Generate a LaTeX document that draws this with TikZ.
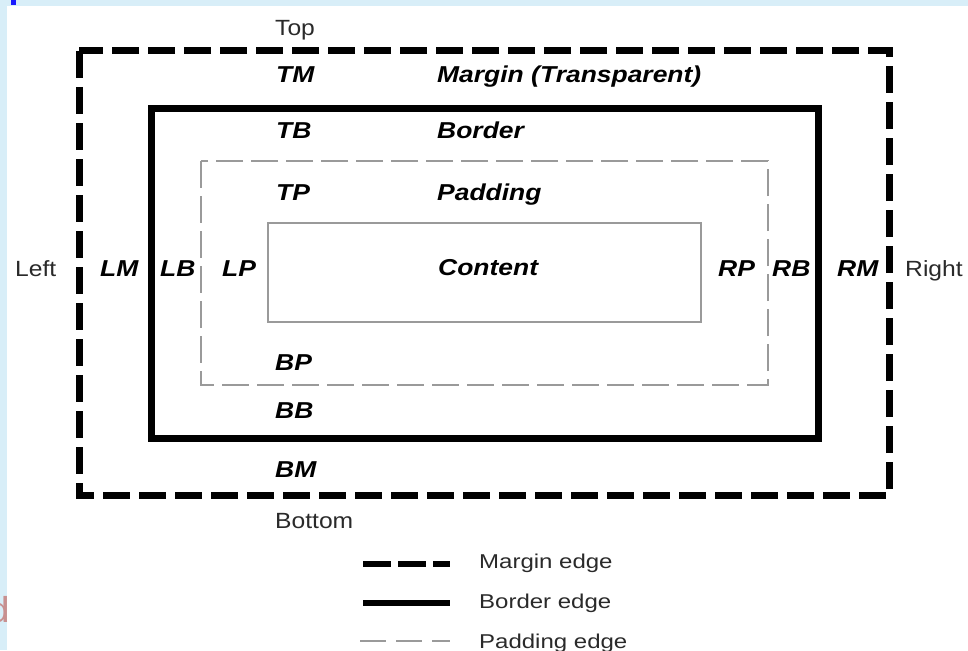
\documentclass[tikz,border=0pt]{standalone}
\usepackage{fontspec}
\newfontfamily\labfont{Liberation Sans}[FakeStretch=1.15]
\newfontfamily\sidefont{Liberation Sans}[FakeStretch=1.12]
\newfontfamily\legfont{Liberation Sans}[FakeStretch=1.2]
\definecolor{stripblue}{HTML}{D8EEF8}
\definecolor{markblue}{HTML}{1A1AFF}
\definecolor{txtgray}{HTML}{2A2A2A}
\definecolor{padgray}{HTML}{9A9A9A}
\definecolor{dcol}{HTML}{C89090}
\begin{document}
\begin{tikzpicture}[x=1pt,y=-1pt,
  lab/.style={font=\labfont\fontsize{23}{23}\selectfont\bfseries\itshape, anchor=base west, inner sep=0pt},
  side/.style={font=\sidefont\fontsize{22}{22}\selectfont, text=txtgray, anchor=base west, inner sep=0pt},
  leg/.style={font=\legfont\fontsize{20}{20}\selectfont, text=txtgray, anchor=base west, inner sep=0pt},
  marginedge/.style={line width=7pt, dash pattern=on 27pt off 9pt},
  borderedge/.style={line width=7pt},
  paddingedge/.style={line width=1.3pt, draw=padgray, dash pattern=on 27pt off 8pt},
  contentedge/.style={line width=1.2pt, draw=padgray}]
\useasboundingbox (0,0) rectangle (968,650);
\fill[white] (0,0) rectangle (968,650);
\fill[stripblue] (0,0) rectangle (7,650);
\fill[stripblue] (0,0) rectangle (968,6);
\fill[markblue] (11,0) rectangle (16,5);
\node[font=\sidefont\fontsize{36}{36}\selectfont, text=dcol, anchor=base east, inner sep=0pt] (dfrag) at (10,622) {d};

% boxes
\coordinate (mTL) at (79,51);   \coordinate (mBR) at (889,495);
\coordinate (bTL) at (151,109); \coordinate (bBR) at (818,438);
\coordinate (pTL) at (201,161); \coordinate (pBR) at (768,385);
\coordinate (cTL) at (268,223); \coordinate (cBR) at (701,322);
\draw[marginedge] (mTL) rectangle (mBR);
\draw[borderedge] (bTL) rectangle (bBR);
\draw[paddingedge] (pTL) rectangle (pBR);
\draw[contentedge] (cTL) rectangle (cBR);

% top / bottom labels
\node[side] (top) at (275,36) {Top};
\node[side] (bottom) at (275,528) {Bottom};
\node[side] (left) at (15,276) {Left};
\node[side] (right) at (905,276) {Right};

\node[lab] (tm) at (276,83) {TM};
\node[lab] (mt) at (437,83) {Margin (Transparent)};
\node[lab] (tb) at (276,138) {TB};
\node[lab] (bt) at (437,138) {Border};
\node[lab] (tp) at (276,200) {TP};
\node[lab] (pt) at (437,200) {Padding};
\node[lab] (ct) at (438,275) {Content};
\node[lab] (bp) at (275,370) {BP};
\node[lab] (bb) at (275,418) {BB};
\node[lab] (bm) at (275,477) {BM};

\node[lab] (lm) at (100,276) {LM};
\node[lab] (lb) at (160,276) {LB};
\node[lab] (lp) at (222,276) {LP};
\node[lab] (rp) at (718,276) {RP};
\node[lab] (rb) at (772,276) {RB};
\node[lab] (rm) at (837,276) {RM};

% legend
\coordinate (lm1) at (363,564); \coordinate (lm2) at (450,564);
\coordinate (lb1) at (363,603); \coordinate (lb2) at (450,603);
\coordinate (lp1) at (360,641); \coordinate (lp2) at (450,641);
\draw[line width=6pt, dash pattern=on 28pt off 7pt] (lm1) -- (lm2);
\draw[line width=6pt] (lb1) -- (lb2);
\draw[paddingedge, dash pattern=on 26pt off 10pt] (lp1) -- (lp2);
\node[leg] (legm) at (479,568) {Margin edge};
\node[leg] (legb) at (479,608) {Border edge};
\node[leg] (legp) at (479,648) {Padding edge};
\end{tikzpicture}
\end{document}
